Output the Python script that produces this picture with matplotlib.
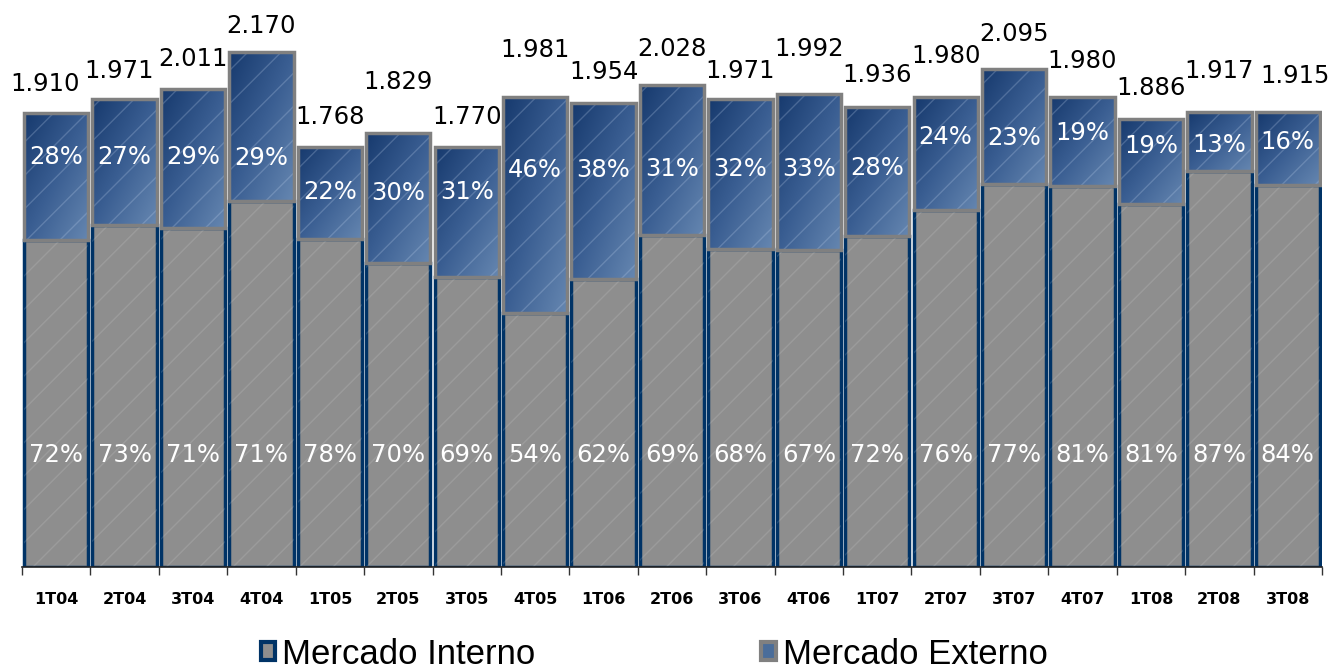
import numpy as np
import matplotlib.pyplot as plt
from matplotlib.colors import LinearSegmentedColormap
from matplotlib.patches import Patch

quarters = ['1T04', '2T04', '3T04', '4T04', '1T05', '2T05', '3T05', '4T05', '1T06', '2T06',
            '3T06', '4T06', '1T07', '2T07', '3T07', '4T07', '1T08', '2T08', '3T08']
totals = [1910, 1971, 2011, 2170, 1768, 1829, 1770, 1981, 1954, 2028,
          1971, 1992, 1936, 1980, 2095, 1980, 1886, 1917, 1915]
interno_pct = [72, 73, 71, 71, 78, 70, 69, 54, 62, 69, 68, 67, 72, 76, 77, 81, 81, 87, 84]
externo_pct = [28, 27, 29, 29, 22, 30, 31, 46, 38, 31, 32, 33, 28, 24, 23, 19, 19, 13, 16]

# label placement (layout only)
total_label_offset = [29, 28, 30, 26, 30, 51, 30, 47, 31, 36, 28, 45, 32, 41, 35, 36, 31, 41, 36]  # px above bar
total_label_dx = [-11, -6, 0, 0, 0, 0, 0, 0, 0, 0, 0, 0, 0, 0, 0, 0, 0, 0, 7]  # px
ext_label_frac = [0.66, 0.54, 0.51, 0.29, 0.51, 0.54, 0.65, 0.66, 0.62, 0.44,
                  0.53, 0.52, 0.53, 0.64, 0.40, 0.59, 0.68, 0.44, 0.59]

totals = np.array(totals, dtype=float)
interno = totals * np.array(interno_pct) / 100
externo = totals - interno
x = np.arange(len(quarters))

navy = '#003366'
gray = '#8e8e8e'
edge_gray = '#808080'
blue_cmap = LinearSegmentedColormap.from_list('blu', ['#173a6e', '#3a5e92', '#6586b0'])

fig = plt.figure(figsize=(13.32, 6.71), dpi=100)
ax = fig.add_axes([22 / 1332, 104 / 671, 1300 / 1332, 567 / 671])

w = 0.94
# mercado interno (bottom)
ax.bar(x, interno, width=w, color=gray, edgecolor=navy, linewidth=2.5, zorder=2)
ax.bar(x, interno, width=w, fill=False, hatch='/', edgecolor=(1, 1, 1, 0.12), linewidth=0, zorder=2.1)

# mercado externo (top) with gradient fill
ext_bars = ax.bar(x, externo, bottom=interno, width=w, color='none', edgecolor=edge_gray,
                  linewidth=2.5, zorder=4)
grad = np.add.outer(np.linspace(0, 1, 60), np.linspace(0, 1, 30)) / 2
for p in ext_bars.patches:
    x0, y0 = p.get_x(), p.get_y()
    im = ax.imshow(grad, extent=(x0, x0 + p.get_width(), y0, y0 + p.get_height()),
                   aspect='auto', cmap=blue_cmap, zorder=3, interpolation='bilinear')
    im.set_clip_path(p)
ax.bar(x, externo, bottom=interno, width=w, fill=False, hatch='/', edgecolor=(0.75, 0.82, 0.92, 0.25),
       linewidth=0, zorder=3.5)

# labels
for i in range(len(x)):
    lbl = f"{int(totals[i]):,}".replace(',', '.')
    ax.annotate(lbl, (x[i], totals[i]), xytext=(total_label_dx[i] * 0.72, total_label_offset[i] * 0.72),
                textcoords='offset points', ha='center', va='center', fontsize=17.5, color='black')
    ax.text(x[i], interno[i] + ext_label_frac[i] * externo[i], f"{externo_pct[i]}%",
            ha='center', va='center', fontsize=17.5, color='white', zorder=6)
    ax.text(x[i], 470, f"{interno_pct[i]}%", ha='center', va='center', fontsize=17.5,
            color='white', zorder=6)

ax.set_xlim(-0.5, len(x) - 0.5)
ax.set_ylim(0, 567 / 0.2375)

for s in ['left', 'right', 'top']:
    ax.spines[s].set_visible(False)
ax.spines['bottom'].set_color('#222222')
ax.spines['bottom'].set_linewidth(1.2)
ax.spines['bottom'].set_zorder(5)
ax.set_yticks([])

ax.set_xticks(np.arange(-0.5, len(x), 1))
ax.set_xticklabels([])
ax.tick_params(axis='x', which='major', length=6, width=1, color='#333333', direction='out')
ax.set_xticks(x, minor=True)
ax.set_xticklabels(quarters, minor=True, fontsize=11.5, fontweight='bold')
ax.tick_params(axis='x', which='minor', length=0, pad=18)

handles = [Patch(facecolor=gray, edgecolor=navy, linewidth=3, label='Mercado Interno'),
           Patch(facecolor='#4a6d9a', edgecolor=edge_gray, linewidth=3, label='Mercado Externo')]
fig.legend(handles=handles, loc='lower center', bbox_to_anchor=(0.491, -0.046), ncol=2,
           frameon=False, prop={'family': 'Liberation Sans', 'size': 25},
           handlelength=0.42, handleheight=0.42, handletextpad=0.2, columnspacing=6.5)

fig.savefig('out.png', dpi=100)
